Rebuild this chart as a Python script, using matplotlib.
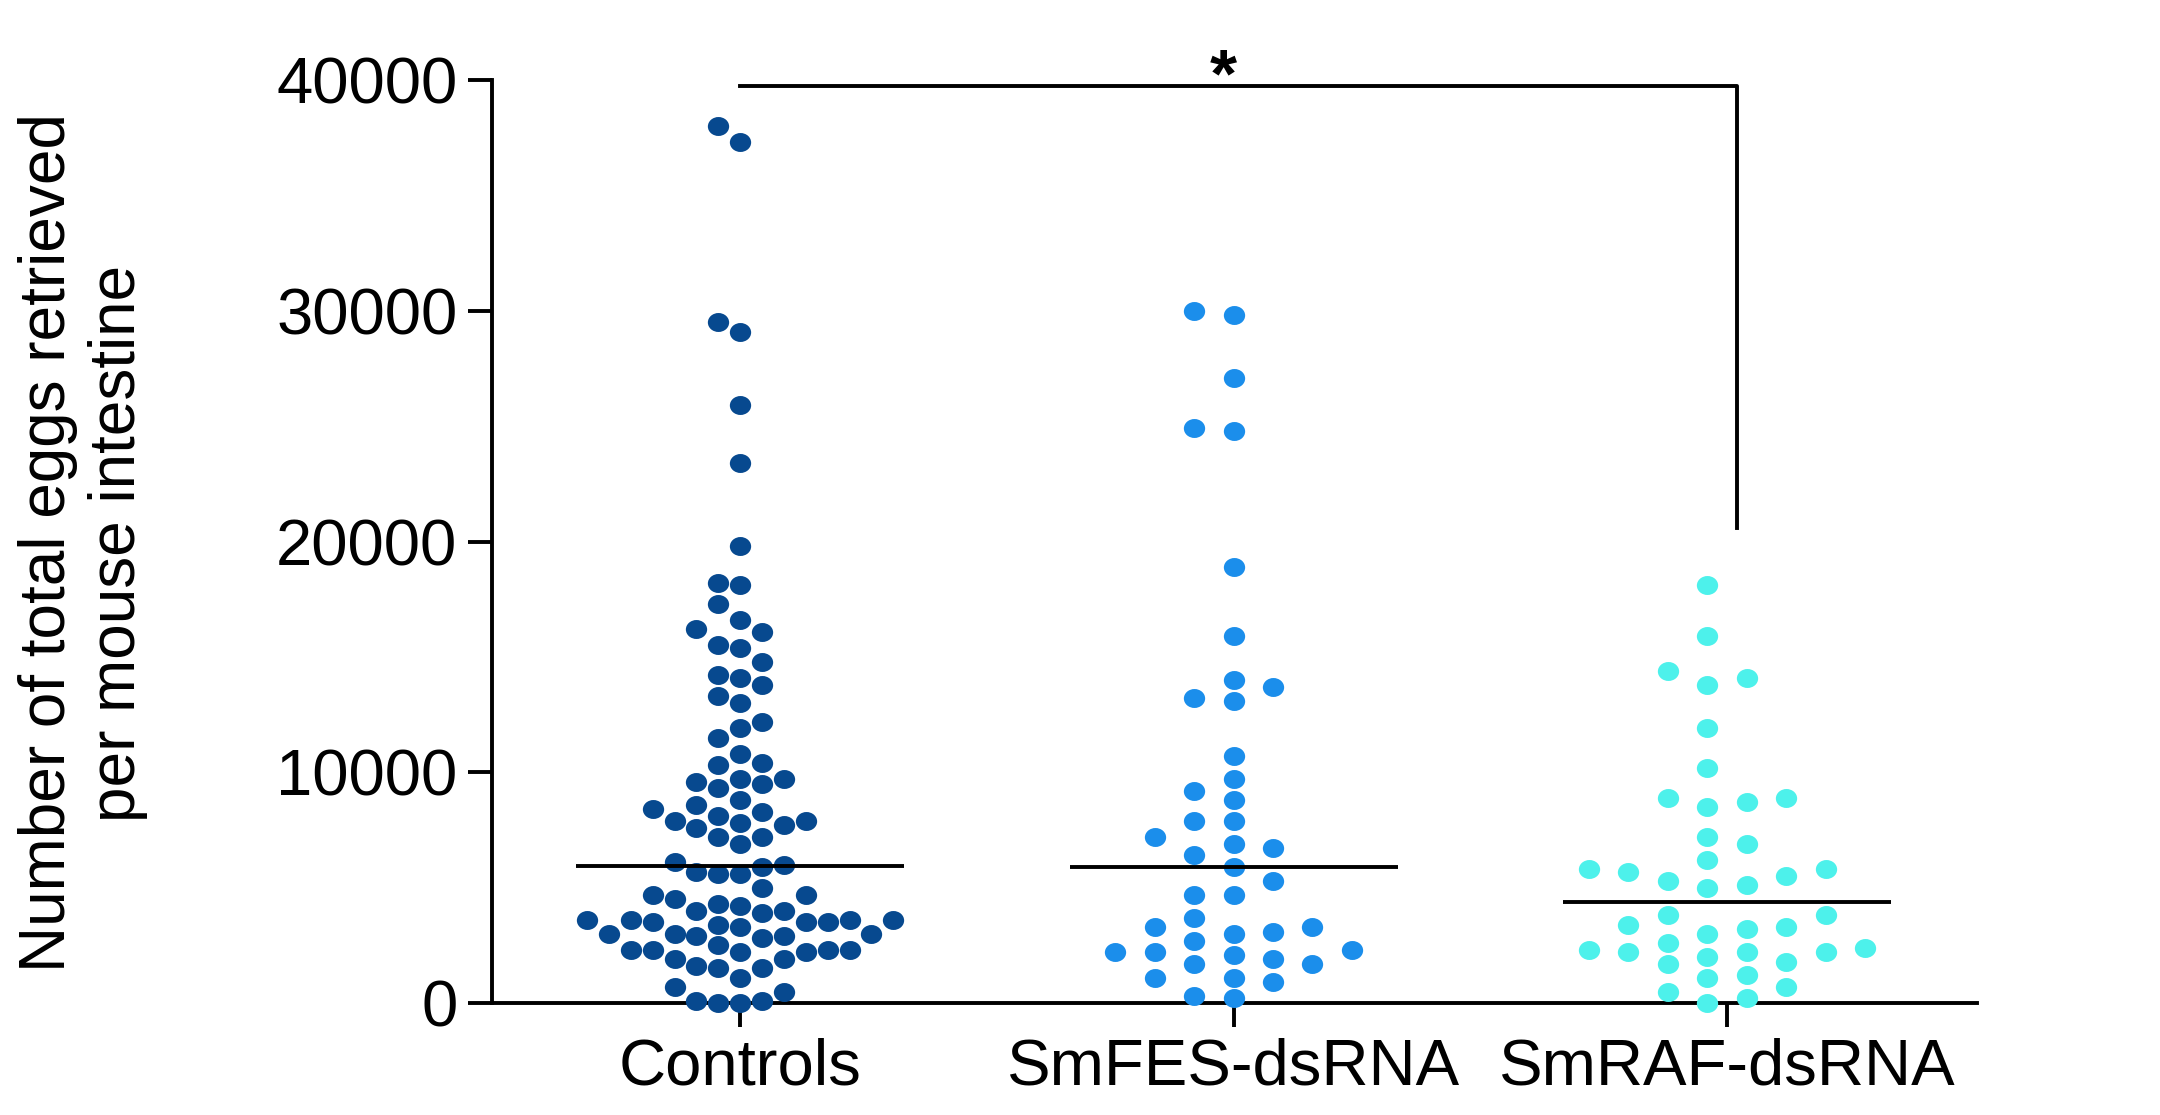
import numpy as np
import matplotlib
matplotlib.use("Agg")
import matplotlib.pyplot as plt
from matplotlib.path import Path

plt.rcParams['font.family'] = ['Liberation Sans', 'DejaVu Sans']

groups = ['Controls', 'SmFES-dsRNA', 'SmRAF-dsRNA']
colors = ['#07498F', '#1B8EEB', '#4DF1EB']

controls = [38000, 37300, 29500, 29100, 25900, 23400, 19800, 18200, 18100,
            17300, 16600, 16200, 16100, 15400, 15500, 14800, 14200, 14100,
            13800, 13300, 13000, 12200, 11900, 11500, 10800, 10400, 10300,
            9500, 9600, 9700, 9700, 9300, 8600, 8800, 8100, 7900, 8300, 7700,
            7800, 7900, 7600, 8400, 7200, 7200, 6900,
            6000, 5900, 6100, 5700, 5600, 5600, 5000, 4700, 4700, 4300, 4200,
            4500, 4000, 3900, 4000,
            3600, 3500, 3600, 3600, 3400, 3600, 3300, 3500, 3500, 2900, 3000,
            3000, 2800, 2900, 3000,
            2300, 2500, 2200, 1900, 2300, 2300, 2300, 1900, 2200, 1600, 1500,
            1500, 1100, 700, 500, 100, 100, 0, 0]
smfes = [30000, 29800, 27100, 24900, 24800, 18900, 15900, 14000, 13700,
         13200, 13100, 10700, 9700, 9200, 8800, 7900, 7900, 7200, 6900, 6700,
         6400, 5900, 5300, 4700, 4700, 3700, 3300, 3100, 3000, 3300, 2700,
         1900, 1700, 2300, 2100, 2200, 1700, 2200, 1100, 900, 1100, 200, 300]
smraf = [18100, 15900, 14100, 13800, 14400, 11900, 10200, 8900, 8500, 8700,
         8900, 7200, 6900, 5800, 6200, 5300, 5100, 5500, 5800, 5000, 5700,
         3800, 3800, 3400, 3300, 3000, 3200, 2600, 1700, 2000, 2300, 1800,
         2200, 2200, 2200, 2400, 1100, 700, 1200, 500, 0, 200]
data = [controls, smfes, smraf]

sig_y = 39750     # height of the bracket
sig_drop = 20600  # where the right leg ends


def swarm(vals, gap, shift):
    # Prism-like column layout: each point takes the free column nearest the middle
    vals = np.asarray(vals, float)
    cols = np.zeros(len(vals))
    cand = sorted([k + shift for k in range(-15, 16)], key=lambda c: (abs(c), c > 0))
    used = {}
    for i in np.argsort(vals):
        for c in cand:
            ys = used.get(c, [])
            if all(abs(vals[i] - y) >= gap for y in ys):
                used.setdefault(c, []).append(vals[i])
                cols[i] = c
                break
    return cols


# dot marker: slightly flattened circle
circ = Path.unit_circle()
dot = Path(circ.vertices * [1.0, 0.89], circ.codes)

fig = plt.figure(figsize=(21.6, 11.15), dpi=100)
ax = fig.add_axes([0.2278, 0.1004, 0.6875, 0.8278])

band = 0.665
lw = 2.8
shifts = [0.0, 0.0, 0.5]
for i, vals in enumerate(data):
    cols = swarm(vals, 820, shifts[i])
    n = 2 * np.max(np.abs(cols)) + 1
    step = min(0.08, band / n)
    ax.scatter(i + cols * step, vals, s=235, marker=dot, color=colors[i],
               linewidths=0, zorder=3, clip_on=False)
    med = np.median(vals)
    ax.plot([i - band / 2, i + band / 2], [med, med], color='black',
            lw=lw, zorder=4, solid_capstyle='butt')

# significance bracket
ax.plot([0, 2.02, 2.02], [sig_y, sig_y, sig_drop], color='black', lw=lw,
        zorder=4, clip_on=False)
ax.text(0.98, 39300, '*', ha='center', va='baseline', fontsize=50,
        fontweight='bold')

ax.set_xlim(-0.503, 2.507)
ax.set_ylim(0, 40000)
ax.set_yticks([0, 10000, 20000, 30000, 40000])
ax.set_yticklabels(['0', '10000', '20000', '30000', '40000'])
ax.set_xticks(range(3))
ax.set_xticklabels(groups)

for s in ['top', 'right']:
    ax.spines[s].set_visible(False)
for s in ['left', 'bottom']:
    ax.spines[s].set_linewidth(lw)
ax.tick_params(axis='both', length=17, width=lw, color='black')
ax.tick_params(axis='y', labelsize=47, pad=8)
ax.tick_params(axis='x', labelsize=47, pad=8)

fig.text(83 / 2160, 0.513, 'Number of total eggs retrieved\nper mouse intestine',
         rotation=90, ha='center', va='center', fontsize=46,
         multialignment='center')

fig.savefig('out.png', dpi=100, facecolor='white')
